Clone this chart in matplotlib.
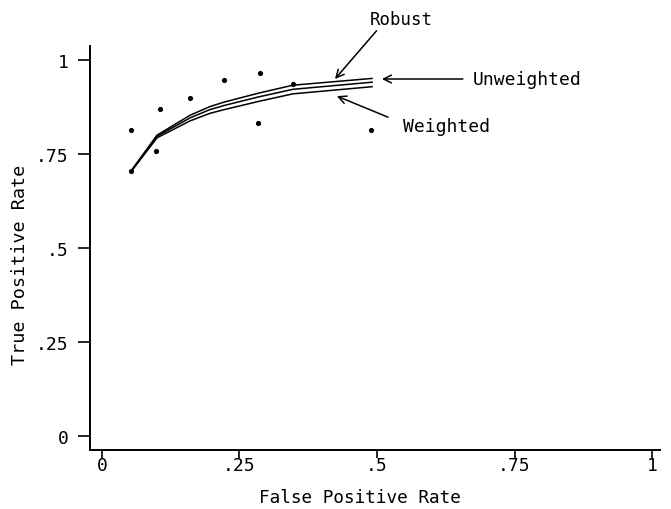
import matplotlib
matplotlib.use("Agg")
import matplotlib.pyplot as plt

# Study-level operating points
study_fpr = [0.053, 0.053, 0.098, 0.105, 0.160, 0.222, 0.284, 0.287, 0.347, 0.489]
study_tpr = [0.814, 0.705, 0.758, 0.870, 0.899, 0.947, 0.832, 0.965, 0.936, 0.814]

# Fitted SROC curves
curve_fpr = [0.053, 0.100, 0.160, 0.196, 0.222, 0.285, 0.347, 0.491]
robust_tpr = [0.705, 0.800, 0.853, 0.876, 0.888, 0.912, 0.933, 0.951]
unweighted_tpr = [0.705, 0.797, 0.846, 0.868, 0.879, 0.902, 0.922, 0.941]
weighted_tpr = [0.703, 0.793, 0.838, 0.858, 0.868, 0.890, 0.910, 0.929]

x_ticks = [0, 0.25, 0.5, 0.75, 1]
x_tick_labels = ["0", ".25", ".5", ".75", "1"]
y_ticks = [0, 0.25, 0.5, 0.75, 1]
y_tick_labels = ["0", ".25", ".5", ".75", "1"]

plt.rcParams["font.family"] = ["DejaVu Sans Mono"]
fig = plt.figure(figsize=(6.71, 5.10), dpi=100)
ax = fig.add_axes([0.1341, 0.1157, 0.8495, 0.7921])

ax.scatter(study_fpr, study_tpr, s=14, color="black", zorder=3, linewidths=0)
for ys in (robust_tpr, unweighted_tpr, weighted_tpr):
    ax.plot(curve_fpr, ys, color="black", lw=1.1)

ax.set_xlim(-0.0218, 1.0145)
ax.set_ylim(-0.0372, 1.0372)
ax.set_xticks(x_ticks)
ax.set_xticklabels(x_tick_labels)
ax.set_yticks(y_ticks)
ax.set_yticklabels(y_tick_labels)

for side in ("top", "right"):
    ax.spines[side].set_visible(False)
for side in ("left", "bottom"):
    ax.spines[side].set_linewidth(1.4)

ax.tick_params(axis="y", direction="out", length=8.5, width=1.2, pad=7, labelsize=13)
ax.tick_params(axis="x", direction="out", length=6, width=1.2, pad=-2, labelsize=13)

ax.set_xlabel("False Positive Rate", fontsize=12.7)
ax.set_ylabel("True Positive Rate", fontsize=13.3, va="center")
ax.xaxis.set_label_coords(0.474, -0.094)
ax.yaxis.set_label_coords(-0.123, 0.46)

arrow = dict(arrowstyle="->", color="black", lw=1.1, shrinkA=0, shrinkB=0,
             mutation_scale=14)
ax.annotate("Robust", xy=(0.4236, 0.9495), xytext=(0.5436, 1.109),
            ha="center", va="center", fontsize=12.5, annotation_clip=False,
            arrowprops=dict(arrow, relpos=(0.15, 0.0)))
ax.annotate("", xy=(0.509, 0.9495), xytext=(0.656, 0.9495),
            annotation_clip=False, arrowprops=arrow)
ax.text(0.6745, 0.9495, "Unweighted", ha="left", va="center", fontsize=13)
ax.annotate("", xy=(0.427, 0.904), xytext=(0.52, 0.848),
            annotation_clip=False, arrowprops=arrow)
ax.text(0.547, 0.824, "Weighted", ha="left", va="center", fontsize=13)

fig.savefig("out.png", dpi=100)
